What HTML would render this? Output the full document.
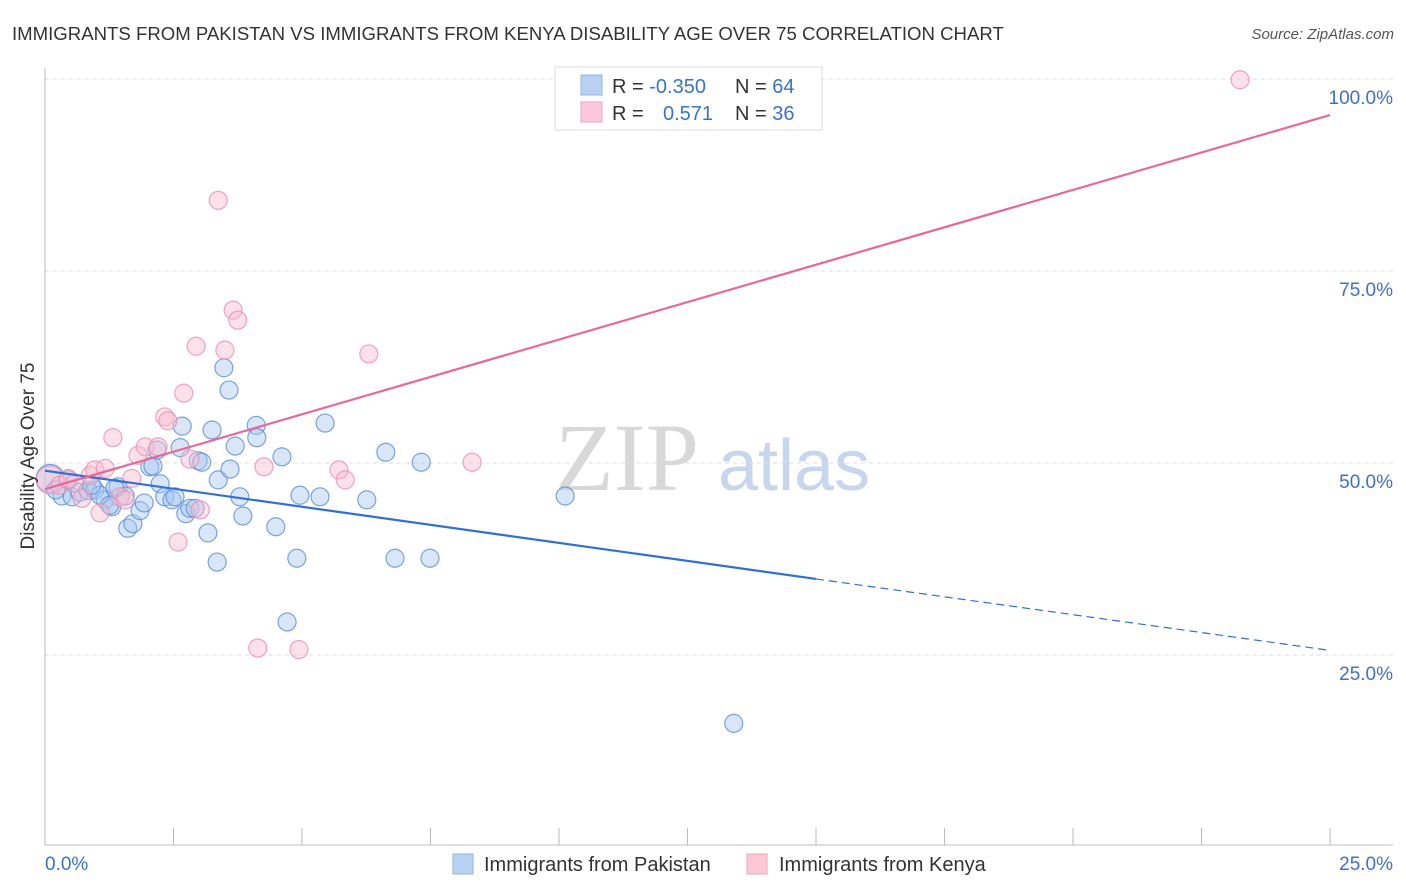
<!DOCTYPE html>
<html><head><meta charset="utf-8">
<style>
body{margin:0;background:#fff;font-family:"Liberation Sans",sans-serif;}
svg{display:block}
</style></head>
<body>
<svg id="chart" width="1406" height="892" xmlns="http://www.w3.org/2000/svg">
<text x="12" y="40" font-size="18.6" fill="#333">IMMIGRANTS FROM PAKISTAN VS IMMIGRANTS FROM KENYA DISABILITY AGE OVER 75 CORRELATION CHART</text>
<text x="1394" y="39" font-size="15" fill="#555" font-style="italic" text-anchor="end">Source: ZipAtlas.com</text>
<g>
<text x="555" y="490" font-size="96" fill="#d8d8d8" font-family="Liberation Serif,serif">ZIP</text>
<text x="718" y="490" font-size="72" fill="#c6d6ee">atlas</text>
</g>
<g id="grid"></g>
<g id="axes"></g>
<g id="pts"></g>
<g id="lines"></g>
<text x="0" y="0" transform="translate(34,456) rotate(-90)" font-size="19" fill="#333" text-anchor="middle">Disability Age Over 75</text>
<g>
<rect x="555" y="67" width="267" height="63" fill="#fff" stroke="#ddd"/>
<rect x="581" y="75" width="21" height="20" fill="#b8d2f4" stroke="#8fb6e8"/>
<rect x="581" y="102" width="21" height="20" fill="#fcc8d8" stroke="#f2a3bc"/>
<text x="612" y="93" font-size="20" fill="#333">R = <tspan fill="#3a72d0">-0.350</tspan></text>
<text x="735" y="93" font-size="20" fill="#333">N = <tspan fill="#3a72d0">64</tspan></text>
<text x="612" y="120" font-size="20" fill="#333">R = </text>
<text x="663" y="120" font-size="20" fill="#3a72d0">0.571</text>
<text x="735" y="120" font-size="20" fill="#333">N = <tspan fill="#3a72d0">36</tspan></text>
</g>
<g>
<rect x="453" y="854" width="20" height="20" fill="#b8d2f4" stroke="#8fb6e8"/>
<text x="484" y="871" font-size="20" fill="#333">Immigrants from Pakistan</text>
<rect x="747" y="854" width="20" height="20" fill="#fcc8d8" stroke="#f2a3bc"/>
<text x="779" y="871" font-size="20" fill="#333">Immigrants from Kenya</text>
</g>
</svg>
<script>
const xTicksLabels=["0.0%","25.0%"];
const yTickValues=[100,75,50,25];
const blueX=[0.10,0.33,0.53,0.68,0.84,0.97,1.17,1.30,1.42,1.56,1.61,1.71,1.85,1.93,2.04,2.10,2.18,2.24,2.33,2.47,2.53,2.63,2.67,2.74,2.82,2.92,2.98,3.05,3.17,3.25,3.35,3.37,3.48,3.58,3.60,3.70,3.79,3.85,4.11,4.12,4.49,4.61,4.71,4.90,4.96,5.35,5.45,6.26,6.63,6.81,7.32,7.49,10.12,13.40,0.21,0.45,1.07,1.36,0.91,1.26];
const blueY=[48.0,45.7,45.6,46.2,46.4,46.5,45.2,44.3,46.9,45.7,41.5,42.1,43.8,44.8,49.5,49.6,51.7,47.3,45.6,45.2,45.6,52.0,54.8,43.4,44.1,44.1,50.3,50.1,40.9,54.3,37.1,47.8,62.4,59.5,49.2,52.2,45.6,43.1,54.9,53.3,41.7,50.8,29.3,37.6,45.8,45.6,55.2,45.2,51.4,37.6,50.1,37.6,45.7,16.1,46.5,47.8,45.8,46.7,47.1,44.5];
const pinkX=[0.10,0.29,0.45,0.58,0.72,0.88,0.97,1.07,1.17,1.32,1.46,1.56,1.69,1.81,1.95,2.20,2.33,2.39,2.59,2.70,2.82,2.94,3.02,3.37,3.50,3.66,3.75,4.14,4.26,4.94,5.72,5.84,6.30,8.31,23.25];
const pinkY=[47.8,47.1,48.0,47.4,45.4,48.4,49.1,43.5,49.3,53.3,45.6,45.2,48.0,51.0,52.1,52.1,56.0,55.5,39.7,59.1,50.5,65.2,43.9,84.2,64.7,69.9,68.6,25.9,49.5,25.7,49.1,47.8,64.2,50.1,99.9];
const blueTrend=[[0,49.0],[15,34.9]];
const blueDash=[[15,34.9],[25,25.6]];
const pinkTrend=[[0,46.6],[25,95.3]];
const X0=45,X1=1330,YB=847,YT=79;
const sx=v=>X0+(v/25)*(X1-X0);
const sy=v=>YB-(v/100)*(YB-YT);
const NS="http://www.w3.org/2000/svg";
function mk(tag,attrs,parent){const e=document.createElementNS(NS,tag);for(const k in attrs)e.setAttribute(k,attrs[k]);document.getElementById(parent).appendChild(e);return e;}
yTickValues.forEach(v=>{
  const l=mk('line',{x1:45,x2:1393,y1:sy(v),y2:sy(v),stroke:'#ddd','stroke-dasharray':'4,4'},'grid');
  
  
  const t=mk('text',{x:1393,y:sy(v)+25,'font-size':19,fill:'#3a72d0','text-anchor':'end'},'grid');
  t.textContent=v.toFixed(1)+'%';
  
  
});
let a=mk('line',{x1:45,x2:45,y1:68,y2:845,stroke:'#bbb'},'axes');


a=mk('line',{x1:45,x2:1393,y1:845,y2:845,stroke:'#bbb'},'axes');


for(let i=1;i<=10;i++){
  const t=mk('line',{x1:sx(i*2.5),x2:sx(i*2.5),y1:828,y2:845,stroke:'#bbb'},'axes');
  
  
}
let xl=mk('text',{x:45,y:870,'font-size':19,fill:'#3a72d0'},'axes');xl.textContent=xTicksLabels[0];


xl=mk('text',{x:1393,y:870,'font-size':19,fill:'#3a72d0','text-anchor':'end'},'axes');xl.textContent=xTicksLabels[1];


function pts(X,Y,fill,stroke,name){X.forEach((x,i)=>{
  const r=(i===0)?14:9;
  const c=mk('circle',{cx:sx(x),cy:sy(Y[i]),r:r,fill:fill,'fill-opacity':0.45,stroke:stroke,'stroke-opacity':0.8,'stroke-width':1.2},'pts');
  
  
});}
pts(blueX,blueY,'#a9c8f0','#5a8fd8','point-pakistan');
pts(pinkX,pinkY,'#f8bcd0','#ec8fae','point-kenya');
function line(p,stroke,dash,w,name){
  const l=mk('line',{x1:sx(p[0][0]),y1:sy(p[0][1]),x2:sx(p[1][0]),y2:sy(p[1][1]),stroke:stroke,'stroke-width':w},'lines');
  if(dash)l.setAttribute('stroke-dasharray',dash);
  
  
}
line(blueTrend,'#2f6fd6',null,2.2,'trend-line-pakistan');
line(blueDash,'#2f6fd6','8,5',1.2,'trend-line-pakistan-extrapolated');
line(pinkTrend,'#e8689a',null,2.2,'trend-line-kenya');
</script>
</body></html>
